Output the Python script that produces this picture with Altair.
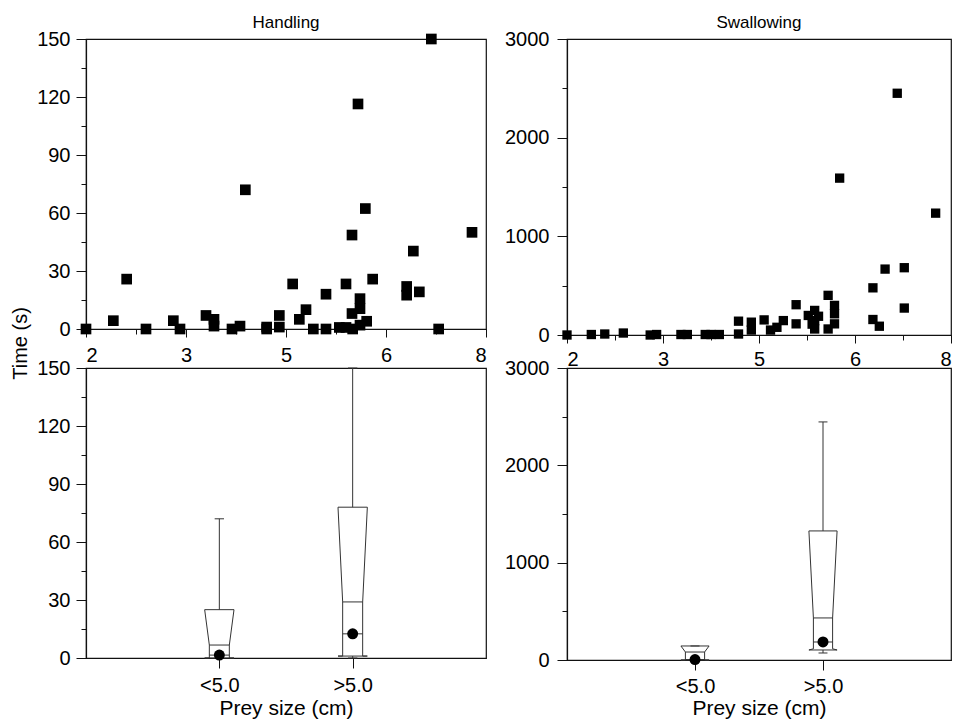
import altair as alt
import pandas as pd

# ---------------- data ----------------
hand_size = [2.0, 2.41, 2.61, 2.9, 3.31, 3.41, 3.8, 3.92, 3.92, 4.19, 4.31, 4.39, 4.71, 4.71,
             4.9, 4.9, 5.1, 5.2, 5.3, 5.41, 5.6, 5.6, 5.8, 5.9, 5.9, 5.99, 5.99, 6.0, 6.08,
             6.11, 6.11, 6.11, 6.19, 6.21, 6.3, 6.81, 6.81, 6.91, 7.0, 7.18, 7.29, 7.79]
hand_time = [0, 4.3, 25.8, 0, 4.3, 0, 7, 5, 1.5, 0, 1.5, 72, 1, 0,
             7, 1, 23.3, 5, 10, 0, 18, 0, 0.8, 23.3, 0.8, 8, 48.6, 0, 116.4,
             15.7, 10.5, 2, 62.3, 4, 25.8, 22, 17.5, 40.3, 19.2, 150, 0, 50]

swal_size = [2.0, 2.38, 2.59, 2.88, 3.3, 3.4, 3.78, 3.88, 4.16, 4.25, 4.38, 4.68, 4.68,
             4.88, 4.88, 5.08, 5.18, 5.28, 5.38, 5.58, 5.58, 5.77, 5.83, 5.87, 5.87, 5.87,
             5.93, 6.08, 6.08, 6.18, 6.18, 6.18, 6.26, 6.78, 6.78, 6.88, 6.97, 7.16, 7.27,
             7.27, 7.76]
swal_time = [0, 5, 10, 20, 0, 5, 5, 5, 5, 5, 5, 140, 10,
             130, 50, 153, 50, 78, 146, 307, 113, 198, 110, 249, 146, 61,
             190, 402, 61, 300, 215, 113, 1590, 478, 157, 89, 668, 2450, 682,
             273, 1235]

groups = ["<5.0", ">5.0"]
hand_q1 = [0, 1]
hand_notch_lo = [0, 1]
hand_notch_hi = [6.7, 29]
hand_q3 = [25, 78]
hand_whisk_lo = [0, 0]
hand_whisk_hi = [72, 150]
hand_point = [1.5, 12.5]

swal_q1 = [0, 103]
swal_notch_lo = [0, 115]
swal_notch_hi = [82, 432]
swal_q3 = [144, 1326]
swal_whisk_lo = [0, 72]
swal_whisk_hi = [144, 2446]
swal_point = [5, 185]

x_ticks = [2, 3.5, 5, 6.5, 8]
x_tick_labels = ["2", "3", "5", "6", "8"]
hand_y_ticks = [0, 30, 60, 90, 120, 150]
swal_y_ticks = [0, 1000, 2000, 3000]

panel_titles = ["Handling", "Swallowing"]
y_title = "Time (s)"
x_title = "Prey size (cm)"

# ---------------- styling ----------------
FONT = "Liberation Sans"
INK = "#111111"
BOXC = "#333333"


def with_minor(major):
    out = []
    for a, b in zip(major[:-1], major[1:]):
        out += [a, (a + b) / 2]
    return out + [major[-1]]


def major_test(major):
    return " || ".join(f"abs(datum.value - {v}) < 1e-6" for v in major)


def y_axis(major, pad, **extra):
    test = major_test(major)
    return alt.Axis(values=with_minor(major), format="d",
                    labelExpr=f"({test}) ? datum.label : ''",
                    tickSize={"condition": {"test": test, "value": 10}, "value": 5},
                    labelPadding=pad, grid=False, **extra)


def x_axis(pad):
    test = major_test(x_ticks)
    expr = "''"
    for v, lab in reversed(list(zip(x_ticks, x_tick_labels))):
        expr = f"abs(datum.value - {v}) < 1e-6 ? '{lab}' : ({expr})"
    return alt.Axis(values=with_minor(x_ticks), labelExpr=expr,
                    tickSize={"condition": {"test": test, "value": 8}, "value": 5},
                    labelPadding=pad, title=None, grid=False)


def cat_axis(pad, title_y):
    expr = "''"
    for i in reversed(range(len(groups))):
        expr = f"datum.value == {i + 1} ? '{groups[i]}' : ({expr})"
    return alt.Axis(values=[i + 1 for i in range(len(groups))], labelExpr=expr,
                    tickSize=10, labelPadding=pad, title=x_title, titleY=title_y,
                    titleBaseline="top", grid=False)


def scatter(xs, ys, major, w, h, title, size, yaxis, xaxis):
    df = pd.DataFrame({"size": xs, "time": ys})
    return alt.Chart(df).mark_square(size=size, color="black", opacity=1).encode(
        x=alt.X("size:Q", scale=alt.Scale(domain=[x_ticks[0], x_ticks[-1]], nice=False, zero=False), axis=xaxis),
        y=alt.Y("time:Q", scale=alt.Scale(domain=[major[0], major[-1]], nice=False), axis=yaxis),
    ).properties(width=w, height=h,
                 title=alt.TitleParams(title, offset=-20, baseline="bottom"))


def box_panel(q1, nlo, nhi, q3, wlo, whi, pt, major, w, h, yaxis, xaxis):
    W, N, C = 0.11, 0.075, 0.035
    poly, rules, pts = [], [], []
    for i, g in enumerate(groups):
        p = i + 1
        verts = [(p - W, q3[i]), (p + W, q3[i]), (p + N, nhi[i]), (p + N, nlo[i]),
                 (p + W, q1[i]), (p - W, q1[i]), (p - N, nlo[i]), (p - N, nhi[i]),
                 (p - W, q3[i])]
        for k, (x, y) in enumerate(verts):
            poly.append(dict(g=g, k=k, x=x, y=y))
        rules.append(dict(x=p, x2=p, y=q3[i], y2=whi[i]))
        rules.append(dict(x=p, x2=p, y=wlo[i], y2=q1[i]))
        rules.append(dict(x=p - C, x2=p + C, y=whi[i], y2=whi[i]))
        rules.append(dict(x=p - C, x2=p + C, y=wlo[i], y2=wlo[i]))
        rules.append(dict(x=p - N, x2=p + N, y=nhi[i], y2=nhi[i]))
        rules.append(dict(x=p - N, x2=p + N, y=pt[i], y2=pt[i]))
        pts.append(dict(x=p, y=pt[i]))

    X = alt.X("x:Q", scale=alt.Scale(domain=[0, len(groups) + 1], nice=False, zero=False), axis=xaxis)
    Y = alt.Y("y:Q", scale=alt.Scale(domain=[major[0], major[-1]], nice=False), axis=yaxis)

    box = alt.Chart(pd.DataFrame(poly)).mark_line(color=BOXC, strokeWidth=1).encode(
        x=X, y=Y, detail="g:N", order="k:Q")
    rl = alt.Chart(pd.DataFrame(rules)).mark_rule(color=BOXC, strokeWidth=1).encode(
        x=X, y=Y, x2=alt.X2("x2"), y2=alt.Y2("y2"))
    dots = alt.Chart(pd.DataFrame(pts)).mark_circle(size=120, color="black", opacity=1).encode(
        x=X, y=Y)
    return alt.layer(box, rl, dots).properties(width=w, height=h)


RW = 384
tl = scatter(hand_size, hand_time, hand_y_ticks, 400, 290, panel_titles[0], 114,
             y_axis(hand_y_ticks, 6, title=y_title, titleX=-66, titleY=304, titleAngle=270,
                    titleAlign="center", titleBaseline="middle", titleFontSize=20),
             x_axis(8))
tr = scatter(swal_size, swal_time, swal_y_ticks, RW, 296, panel_titles[1], 87,
             y_axis(swal_y_ticks, 8, title=None), x_axis(6))
bl = box_panel(hand_q1, hand_notch_lo, hand_notch_hi, hand_q3, hand_whisk_lo, hand_whisk_hi,
               hand_point, hand_y_ticks, 400, 290,
               y_axis(hand_y_ticks, 6, title=None), cat_axis(7, 39))
br = box_panel(swal_q1, swal_notch_lo, swal_notch_hi, swal_q3, swal_whisk_lo, swal_whisk_hi,
               swal_point, swal_y_ticks, RW, 292,
               y_axis(swal_y_ticks, 8, title=None), cat_axis(6, 37))

chart = alt.concat(tl, tr, bl, br, columns=2, spacing={"row": 33, "column": 81},
                   bounds="flush").properties(
    padding={"left": 1, "top": 5, "right": 0, "bottom": 0}
).configure_axis(
    labelFont=FONT, labelFontSize=20, labelColor="black",
    titleFont=FONT, titleFontSize=21, titleFontWeight="normal", titleColor="black",
    domainColor=INK, domainWidth=1.2, tickColor=INK, tickWidth=1,
).configure_view(stroke=INK, strokeWidth=1.2).configure_title(
    font=FONT, fontSize=17, fontWeight="normal", color="black")

chart.save("out.html", embed_options={"renderer": "svg", "actions": False})
